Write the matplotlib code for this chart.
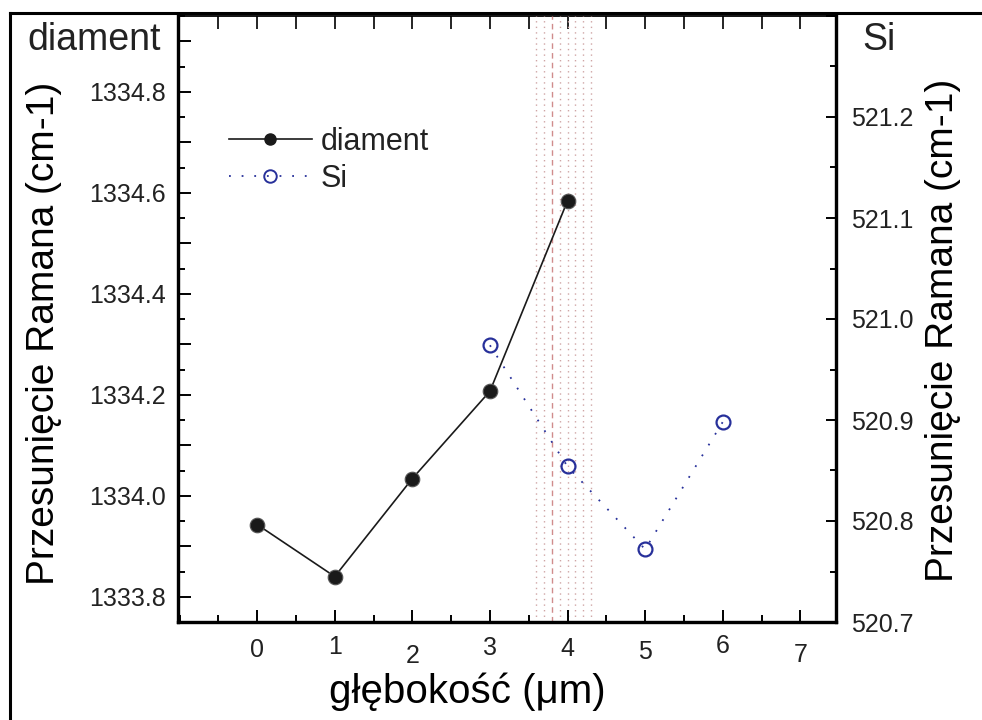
import matplotlib
matplotlib.use("Agg")
import matplotlib.pyplot as plt
import matplotlib.transforms as mtransforms
from matplotlib.lines import Line2D
from matplotlib.ticker import MultipleLocator, FixedLocator, NullFormatter
import numpy as np

plt.rcParams.update({
    "font.family": ["Liberation Sans", "DejaVu Sans"],
    "text.color": "#222222",
})

# depth (um) and Raman shift values
depth_d = [0, 1, 2, 3, 4]
shift_d = [1333.943, 1333.840, 1334.034, 1334.207, 1334.584]
depth_si = [3, 4, 5, 6]
shift_si = [520.974, 520.854, 520.772, 520.898]
x_ticks = [0, 1, 2, 3, 4, 5, 6, 7]
band_dotted = [3.6, 3.7, 3.9, 4.0, 4.1, 4.2, 4.3]
band_dashed = [3.8]

C_D = "#1a1a1a"
C_SI = "#27309a"

fig = plt.figure(figsize=(9.82, 7.2), dpi=100)
ax = fig.add_axes([178/982, 1-622/720, 658/982, 606/720])
ax2 = ax.twinx()

for xv in band_dotted:
    ax.axvline(xv, color="#cfa5a5", linestyle=(0, (1, 3)), linewidth=1.0, zorder=1)
for xv in band_dashed:
    ax.axvline(xv, color="#d08c8c", linestyle=(0, (4, 3)), linewidth=1.0, zorder=1)

ln1, = ax.plot(depth_d, shift_d, color=C_D, linewidth=1.2, marker="o", markersize=10.5,
               markerfacecolor=C_D, markeredgecolor="#555555", markeredgewidth=0.8, zorder=3)
ln2, = ax2.plot(depth_si, shift_si, color=C_SI, linewidth=1.3, linestyle=(0, (1, 6)),
                marker="o", markersize=10, markerfacecolor="none", markeredgecolor=C_SI,
                markeredgewidth=1.6, zorder=3)

ax.set_xlim(-1.02, 7.46)
ax.set_ylim(1333.75, 1334.95)
ax2.set_ylim(520.7, 521.3)

# x axis: ticks inward, labels drawn separately (staggered like the original)
ax.xaxis.set_major_locator(FixedLocator(x_ticks))
ax.xaxis.set_minor_locator(MultipleLocator(0.5))
ax.xaxis.set_major_formatter(NullFormatter())
ax.tick_params(axis="x", which="major", direction="in", length=9, width=1.4, top=False)
ax.tick_params(axis="x", which="minor", direction="in", length=5, width=1.4, top=False)
top = ax.secondary_xaxis("top")
top.set_xticks(np.arange(-0.5, 7.01, 0.5))
top.tick_params(direction="in", length=9, width=1.2, labeltop=False)
top.spines["top"].set_linewidth(1.3)

lab_dy = [1, -2, 7, -1, 0, 3, -3, 6]
trans = mtransforms.blended_transform_factory(ax.transData, ax.transAxes)
for xv, dy in zip(x_ticks, lab_dy):
    ax.text(xv, -(27 + dy) / 606, str(xv), transform=trans, ha="center", va="center",
            fontsize=18, color="#222222")

# left axis
ax.yaxis.set_major_locator(MultipleLocator(0.1))
ax.yaxis.set_minor_locator(MultipleLocator(0.05))
ax.yaxis.set_major_formatter(lambda v, p: f"{v:.1f}" if abs(round(v / 0.2) * 0.2 - v) < 1e-6 else "")
ax.tick_params(axis="y", which="major", direction="in", length=9, width=1.4, labelsize=18,
               pad=9, labelcolor="#222222", right=False)
ax.tick_params(axis="y", which="minor", direction="in", length=5, width=1.4, right=False)

# right axis
ax2.yaxis.set_major_locator(MultipleLocator(0.1))
ax2.yaxis.set_minor_locator(MultipleLocator(0.05))
ax2.yaxis.set_major_formatter(lambda v, p: f"{v:.1f}" if v < 521.25 else "")
ax2.tick_params(axis="y", which="major", direction="in", length=7, width=1.4, labelsize=18,
                pad=11, labelcolor="#222222")
ax2.tick_params(axis="y", which="minor", direction="in", length=4, width=1.4)

for a in (ax, ax2):
    a.spines["left"].set_linewidth(2.3)
    a.spines["bottom"].set_linewidth(2.3)
    a.spines["right"].set_linewidth(2.3)
    a.spines["top"].set_visible(False)

ax.set_xlabel("głębokość (μm)", fontsize=29)
ax.xaxis.set_label_coords(0.439, -0.115)
ax.xaxis.label.set_verticalalignment("center")
ax.set_ylabel("Przesunięcie Ramana (cm-1)", fontsize=28)
ax.yaxis.set_label_coords(-0.203, 0.477)
ax.yaxis.label.set_verticalalignment("center")
ax2.set_ylabel("Przesunięcie Ramana (cm-1)", fontsize=28)
ax2.yaxis.set_label_coords(1.162, 0.482)
ax2.yaxis.label.set_verticalalignment("center")

leg_d = Line2D([], [], color=C_D, linewidth=1.2, marker="o", markersize=8, markerfacecolor=C_D,
               markeredgecolor=C_D)
leg_si = Line2D([], [], color=C_SI, linewidth=1.3, linestyle=(0, (1, 6)), marker="o",
                markersize=9, markerfacecolor="none", markeredgecolor=C_SI, markeredgewidth=1.4)
ax2.legend([leg_d, leg_si], ["diament", "Si"], loc="upper left", frameon=False, fontsize=22,
           handlelength=2.7, handletextpad=0.3, labelspacing=0.22, borderpad=0, borderaxespad=0,
           bbox_to_anchor=(229/982, 1-127/720), bbox_transform=fig.transFigure)

fig.text(27/982, 1-50/720, "diament", fontsize=27, ha="left", va="baseline")
fig.text(862/982, 1-50/720, "Si", fontsize=27, ha="left", va="baseline")

# outer frame
fig.add_artist(Line2D([10/982, 1], [1-13/720, 1-13/720], color="black", linewidth=2.2,
                      transform=fig.transFigure))
fig.add_artist(Line2D([10/982, 10/982], [0, 1-13/720], color="black", linewidth=2.2,
                      transform=fig.transFigure))

fig.savefig("out.png", dpi=100)
